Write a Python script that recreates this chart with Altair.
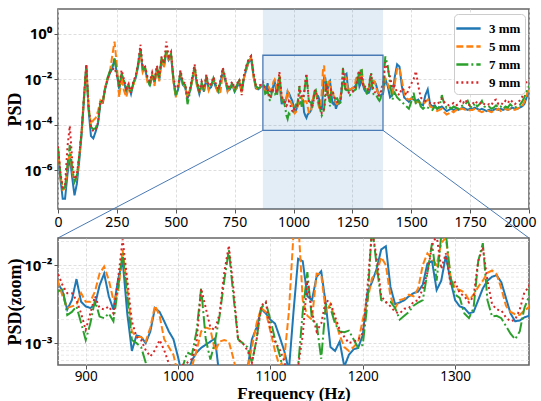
import altair as alt
import pandas as pd
import numpy as np

SERIES = ["3 mm", "5 mm", "7 mm", "9 mm"]
COLORS = ["#1f77b4", "#ff7f0e", "#2ca02c", "#d62728"]
DASHES = [[1, 0], [7, 3], [12, 3, 2, 3], [2, 3]]

# frequency grid (Hz): coarse outside the zoom window, fine inside it
FREQ_LOW = list(range(0, 870, 10))      # 0 .. 860
FREQ_ZOOM = list(range(870, 1385, 5))   # 870 .. 1380
FREQ_HIGH = list(range(1390, 2001, 10)) # 1390 .. 2000

# log10(PSD)
B_LOW = [-5.16,-6.35,-7.25,-7.25,-6.20,-5.40,-6.30,-7.10,-6.60,-5.60,
 -4.45,-2.95,-1.45,-3.35,-4.50,-4.60,-4.30,-3.95,-3.05,-3.05,
 -2.45,-2.05,-1.75,-1.55,-1.10,-1.75,-2.45,-1.85,-2.10,-2.55,
 -2.30,-2.65,-2.20,-1.95,-1.45,-0.70,-1.65,-1.55,-2.05,-2.25,
 -1.85,-2.15,-1.55,-2.05,-1.15,-1.45,-0.80,-1.15,-0.95,-2.05,
 -2.75,-2.45,-1.75,-2.25,-2.35,-2.85,-2.55,-2.05,-1.55,-2.25,
 -2.65,-2.25,-2.55,-1.95,-2.45,-2.35,-2.05,-2.35,-2.55,-2.15,
 -1.65,-2.05,-2.50,-2.45,-2.25,-2.55,-2.35,-2.15,-2.55,-1.95,
 -1.55,-1.25,-1.10,-1.85,-2.40,-2.45,-2.35]
O_LOW = [-5.05,-6.15,-6.85,-6.80,-5.90,-5.20,-6.00,-6.50,-6.30,-5.45,
 -4.40,-2.90,-1.40,-3.25,-4.00,-3.80,-3.70,-3.40,-2.95,-3.10,
 -2.35,-2.00,-1.70,-1.00,-0.35,-1.40,-2.80,-1.90,-2.50,-2.80,
 -2.35,-2.50,-2.30,-1.85,-1.40,-0.75,-1.70,-1.50,-2.15,-2.20,
 -1.75,-2.30,-1.50,-2.10,-1.05,-1.50,-0.75,-1.20,-0.85,-2.10,
 -2.80,-2.35,-1.80,-2.15,-2.40,-2.80,-2.45,-2.10,-1.50,-2.30,
 -2.55,-2.30,-2.45,-2.00,-2.50,-2.25,-2.10,-2.30,-2.65,-2.55,
 -1.70,-1.95,-2.55,-2.35,-2.30,-2.45,-2.40,-2.05,-2.60,-1.90,
 -1.60,-1.20,-1.05,-1.90,-2.35,-2.50,-2.30]
G_LOW = [-5.00,-6.20,-6.80,-6.75,-5.80,-4.90,-5.90,-6.50,-6.25,-5.40,
 -4.35,-2.85,-1.38,-3.30,-4.10,-4.20,-4.15,-3.85,-3.00,-3.00,
 -2.40,-1.95,-1.65,-1.45,-1.10,-1.70,-2.40,-1.75,-2.05,-2.45,
 -2.25,-2.60,-2.15,-1.90,-1.35,-0.65,-1.55,-1.50,-1.95,-2.30,
 -1.80,-2.10,-1.45,-1.95,-1.05,-1.35,-0.70,-1.05,-0.90,-1.95,
 -2.70,-2.40,-1.65,-2.20,-2.25,-3.10,-2.60,-1.95,-1.45,-2.15,
 -2.60,-2.15,-2.50,-1.85,-2.35,-2.30,-1.95,-2.25,-2.50,-2.10,
 -1.55,-2.00,-2.40,-2.40,-2.15,-2.50,-2.25,-2.05,-2.45,-1.85,
 -1.45,-1.15,-1.00,-1.75,-2.30,-2.40,-2.35]
R_LOW = [-4.95,-6.10,-6.75,-6.70,-5.00,-4.05,-5.50,-6.40,-6.20,-5.35,
 -4.30,-2.80,-1.35,-3.20,-4.05,-4.30,-4.20,-3.90,-2.95,-2.95,
 -2.40,-2.00,-1.70,-1.60,-1.50,-1.85,-2.30,-1.60,-2.00,-2.40,
 -2.20,-2.60,-2.10,-1.85,-1.30,-0.48,-1.50,-1.45,-1.90,-2.10,
 -1.70,-2.05,-1.40,-1.90,-1.00,-1.30,-0.35,-1.00,-0.80,-1.90,
 -2.40,-2.30,-1.60,-2.10,-2.20,-2.80,-2.45,-1.90,-1.35,-2.10,
 -2.50,-2.10,-2.40,-1.80,-2.30,-2.20,-1.90,-2.20,-2.45,-2.05,
 -1.50,-1.90,-2.35,-2.30,-2.10,-2.40,-2.20,-2.00,-2.70,-1.80,
 -1.40,-1.10,-0.98,-1.70,-2.25,-2.30,-2.25]

B_ZOOM = [-2.23,-2.34,-2.57,-2.45,-2.18,-2.47,-2.53,-2.55,-2.51,-2.26,
 -2.11,-2.40,-2.57,-2.19,-1.94,-2.62,-3.10,-2.90,-2.92,-3.00,
 -2.85,-2.55,-2.60,-2.72,-2.85,-2.95,-3.18,-3.45,-3.40,-3.22,
 -3.12,-3.06,-3.02,-2.98,-2.94,-3.45,-3.60,-3.70,-3.55,-3.50,
 -3.45,-3.35,-2.95,-2.80,-2.56,-2.62,-2.70,-2.75,-2.92,-3.10,
 -3.35,-2.60,-1.92,-1.95,-2.40,-2.45,-2.15,-2.08,-2.50,-3.05,
 -3.10,-2.98,-3.30,-3.15,-3.08,-3.06,-2.90,-2.35,-2.22,-2.05,
 -1.80,-1.76,-2.28,-2.50,-2.48,-2.45,-2.40,-2.36,-2.34,-2.25,
 -1.98,-1.95,-2.32,-2.20,-1.88,-2.20,-2.45,-2.53,-2.55,-2.62,
 -2.60,-2.45,-2.30,-2.20,-2.15,-2.13,-2.22,-2.42,-2.62,-2.72,
 -2.71,-2.67,-2.65]
O_ZOOM = [-2.21,-2.40,-2.55,-2.53,-2.51,-2.36,-2.47,-2.47,-2.34,-2.11,
 -2.02,-2.19,-2.45,-2.36,-1.81,-2.30,-2.85,-2.92,-2.92,-2.98,
 -2.80,-2.52,-2.65,-2.95,-3.05,-3.15,-3.40,-3.50,-3.45,-3.30,
 -3.10,-2.85,-2.80,-2.82,-3.10,-2.98,-2.96,-2.98,-3.20,-3.45,
 -3.50,-3.35,-3.05,-2.75,-2.55,-2.60,-2.85,-3.10,-3.30,-3.20,
 -2.60,-1.60,-1.40,-2.45,-2.65,-2.70,-2.11,-2.12,-2.60,-2.50,
 -2.70,-2.90,-3.05,-3.10,-3.05,-2.99,-2.70,-2.45,-2.17,-2.10,
 -1.90,-2.00,-2.40,-2.55,-2.45,-2.43,-2.38,-2.40,-2.30,-2.00,
 -1.85,-1.92,-2.00,-1.72,-1.65,-2.15,-2.30,-2.32,-2.35,-2.45,
 -2.38,-2.28,-2.20,-2.10,-2.07,-2.12,-2.30,-2.52,-2.60,-2.63,
 -2.64,-2.58,-2.54]
G_ZOOM = [-2.34,-2.30,-2.64,-2.60,-2.53,-2.74,-2.96,-2.75,-2.45,-2.66,
 -2.68,-2.62,-2.72,-2.30,-1.85,-2.40,-2.96,-3.00,-3.05,-3.25,
 -3.60,-3.75,-3.50,-3.55,-3.50,-3.45,-3.40,-3.30,-3.12,-3.15,
 -2.85,-2.30,-2.95,-3.21,-2.98,-2.65,-2.20,-1.81,-2.40,-2.95,
 -3.00,-3.05,-3.25,-2.95,-2.55,-2.48,-2.70,-2.95,-3.15,-3.40,
 -3.60,-3.50,-3.30,-2.60,-2.09,-2.70,-2.75,-3.20,-2.50,-2.55,
 -2.75,-2.85,-2.86,-2.84,-2.95,-3.06,-3.02,-2.50,-1.50,-2.00,
 -2.45,-2.48,-2.47,-2.55,-2.70,-2.65,-2.60,-2.52,-2.48,-2.45,
 -2.10,-1.72,-2.20,-1.62,-1.60,-2.15,-2.38,-2.42,-2.62,-2.68,
 -2.55,-1.95,-1.72,-2.45,-2.66,-2.65,-2.68,-2.78,-2.88,-2.95,
 -2.85,-2.55,-2.40]
R_ZOOM = [-2.11,-2.26,-2.36,-2.36,-2.45,-2.62,-2.83,-2.62,-2.40,-2.55,
 -2.57,-2.53,-2.62,-2.19,-1.67,-2.19,-2.72,-2.92,-2.96,-3.09,
 -3.17,-3.09,-2.96,-3.09,-3.26,-3.40,-3.45,-3.28,-3.25,-3.20,
 -3.00,-2.30,-2.55,-2.80,-2.83,-2.62,-2.10,-1.75,-2.30,-2.96,
 -3.00,-3.09,-3.25,-2.96,-2.52,-2.47,-2.83,-2.98,-3.08,-3.23,
 -3.50,-3.45,-3.30,-2.90,-2.20,-2.60,-2.85,-2.75,-2.45,-2.48,
 -2.66,-2.83,-2.92,-3.00,-2.98,-2.96,-2.87,-2.30,-1.55,-1.90,
 -2.40,-2.47,-2.53,-2.60,-2.62,-2.56,-2.55,-2.47,-2.45,-2.30,
 -2.10,-1.75,-1.62,-2.05,-1.85,-2.24,-2.22,-2.36,-2.40,-2.48,
 -2.40,-1.95,-1.77,-2.20,-2.50,-2.57,-2.58,-2.67,-2.72,-2.70,
 -2.57,-2.35,-2.28]

B_HIGH = [-2.00,-2.30,-2.80,-2.70,-1.90,-1.35,-1.45,-2.30,-2.80,-2.90,
 -3.00,-2.85,-2.90,-2.95,-2.90,-3.10,-3.15,-2.70,-2.45,-3.10,
 -3.20,-3.15,-3.30,-3.25,-3.20,-3.30,-3.40,-3.35,-3.30,-3.35,
 -3.30,-3.35,-3.30,-3.25,-3.30,-3.35,-3.30,-3.30,-3.25,-3.30,
 -3.35,-3.30,-3.35,-3.40,-3.35,-3.40,-3.35,-3.30,-3.35,-3.30,
 -3.35,-3.30,-3.35,-3.30,-3.25,-3.30,-3.30,-3.25,-3.20,-3.10,
 -2.80,-2.50]
O_HIGH = [-1.95,-2.20,-2.50,-2.60,-2.20,-1.55,-1.50,-2.05,-2.60,-2.85,
 -2.90,-2.85,-2.95,-3.00,-3.00,-3.05,-3.10,-3.00,-2.90,-3.20,
 -3.25,-3.30,-3.40,-3.35,-3.30,-3.45,-3.55,-3.50,-3.40,-3.45,
 -3.35,-3.40,-3.30,-3.30,-3.35,-3.40,-3.35,-3.35,-3.30,-3.35,
 -3.40,-3.45,-3.40,-3.35,-3.40,-3.45,-3.40,-3.35,-3.30,-3.40,
 -3.35,-3.30,-3.35,-3.30,-3.30,-3.35,-3.30,-3.25,-3.20,-3.00,
 -2.70,-2.40]
G_HIGH = [-1.00,-1.40,-2.20,-2.90,-2.60,-2.80,-2.90,-3.00,-3.10,-3.20,
 -3.30,-3.00,-2.60,-3.10,-2.85,-3.20,-3.30,-3.20,-3.25,-3.30,
 -3.35,-3.20,-3.30,-3.20,-2.70,-3.10,-3.25,-3.20,-3.30,-3.20,
 -3.25,-3.30,-3.20,-3.15,-3.10,-2.95,-3.20,-3.25,-3.05,-3.20,
 -3.10,-2.95,-3.20,-3.25,-3.20,-3.30,-3.25,-3.15,-3.25,-3.20,
 -3.30,-3.20,-3.25,-3.10,-3.20,-3.25,-3.20,-3.15,-3.00,-2.80,
 -2.50,-2.30]
R_HIGH = [-1.25,-1.55,-1.90,-2.40,-2.30,-2.60,-2.70,-2.40,-2.50,-2.70,
 -2.40,-2.20,-2.00,-1.65,-2.30,-2.80,-2.90,-2.95,-3.00,-3.05,
 -3.10,-3.05,-3.10,-3.00,-2.85,-3.00,-3.10,-3.15,-3.10,-3.05,
 -3.15,-3.10,-2.95,-3.05,-2.90,-3.10,-3.15,-3.10,-2.95,-3.05,
 -3.10,-3.00,-3.10,-3.15,-3.10,-3.15,-2.95,-2.90,-3.10,-3.05,
 -3.10,-2.95,-3.05,-2.90,-3.00,-3.10,-3.00,-2.95,-2.80,-2.50,
 -2.10,-2.00]

X_TICKS_TOP = [0, 250, 500, 750, 1000, 1250, 1500, 1750, 2000]
X_TICKS_BOT = [900, 1000, 1100, 1200, 1300]
ZOOM_F = [870, 1380]
BOX_LG = [-4.25, -0.95]
MINOR_VALUES = [6e-4, 7e-4, 8e-4, 9e-4, 2e-3, 3e-3, 4e-3, 5e-3, 6e-3, 7e-3, 8e-3, 9e-3, 2e-2]

freqs = FREQ_LOW + FREQ_ZOOM + FREQ_HIGH
series_vals = {
    "3 mm": B_LOW + B_ZOOM + B_HIGH,
    "5 mm": O_LOW + O_ZOOM + O_HIGH,
    "7 mm": G_LOW + G_ZOOM + G_HIGH,
    "9 mm": R_LOW + R_ZOOM + R_HIGH,
}
rows = []
for name in SERIES:
    for f, v in zip(freqs, series_vals[name]):
        rows.append({"freq": f, "lg": v, "series": name})
df = pd.DataFrame(rows)
df_zoom = df[(df.freq >= 860) & (df.freq <= 1390)]

W = 471
H_TOP = 200
H_BOT = 127
GAP = 29
TOP_DOM = [-7.7, 1.08]
BOT_DOM = [-3.28, -1.654]

color_scale = alt.Scale(domain=SERIES, range=COLORS)
dash_scale = alt.Scale(domain=SERIES, range=DASHES)

y_label_expr = ("datum.value == 0 ? '10⁰' : datum.value == -1 ? '10⁻¹' : "
                "datum.value == -2 ? '10⁻²' : datum.value == -3 ? '10⁻³' : "
                "datum.value == -4 ? '10⁻⁴' : datum.value == -6 ? '10⁻⁶' : ''")

legend = alt.Legend(title=None, orient="none", legendX=396, legendY=5,
                    fillColor="white", strokeColor="#cccccc", cornerRadius=4,
                    padding=4, symbolType="M-1.35,0L1.35,0", symbolSize=324,
                    symbolStrokeWidth=2.6, labelFont="Liberation Serif",
                    labelFontWeight="bold", labelFontSize=13, rowPadding=0,
                    labelOffset=10)

# shared scales / axes
x_top_scale = alt.Scale(domain=[0, 2000], nice=False, zero=False)
y_top_scale = alt.Scale(domain=TOP_DOM, nice=False, zero=False)
x_top_axis = alt.Axis(values=X_TICKS_TOP, title=None, labelOverlap=False,
                      labelFlush=False, format="d",
                      labelOffset={"expr": "datum.value == 2000 ? -9 : 0"})
y_top_axis = alt.Axis(values=[0, -2, -4, -6], labelExpr=y_label_expr,
                      title="PSD", titleX=-43, titleY=H_TOP / 2,
                      titleAngle=270, titleAlign="center", titleBaseline="middle",
                      labelFontWeight="bold", labelFontSize=15)

x_bot_scale = alt.Scale(domain=ZOOM_F, nice=False, zero=False)
y_bot_scale = alt.Scale(domain=BOT_DOM, nice=False, zero=False)
x_bot_axis = alt.Axis(values=X_TICKS_BOT, title="Frequency (Hz)", titleY=28,
                      titleBaseline="middle", titleFontSize=17,
                      labelOverlap=False, format="d", labelPadding=0,
                      labelFontSize=13.5)
y_bot_axis = alt.Axis(values=[-3, -2], labelExpr=y_label_expr,
                      title="PSD(zoom)", titleX=-43, titleY=H_BOT / 2,
                      titleAngle=270, titleAlign="center", titleBaseline="middle",
                      labelFontWeight="bold", labelFontSize=15)

# ---- top panel
shade = alt.Chart(pd.DataFrame({"freq": [ZOOM_F[0]], "x1": [ZOOM_F[1]]})).mark_rect(
    color="#1f77b4", opacity=0.13
).encode(x=alt.X("freq:Q", scale=x_top_scale, axis=x_top_axis), x2="x1",
         y=alt.value(0), y2=alt.value(H_TOP))

lines_top = alt.Chart(df).mark_line(strokeWidth=2, clip=True).encode(
    x=alt.X("freq:Q", scale=x_top_scale, axis=x_top_axis),
    y=alt.Y("lg:Q", scale=y_top_scale, axis=y_top_axis),
    color=alt.Color("series:N", scale=color_scale, legend=legend),
    strokeDash=alt.StrokeDash("series:N", scale=dash_scale, legend=legend),
)

box = alt.Chart(pd.DataFrame({"freq": [ZOOM_F[0]], "x1": [ZOOM_F[1]],
                              "lg": [BOX_LG[0]], "y1": [BOX_LG[1]]})).mark_rect(
    filled=False, stroke="#4a7ab5", strokeWidth=1.3
).encode(x=alt.X("freq:Q", scale=x_top_scale, axis=x_top_axis), x2="x1",
         y=alt.Y("lg:Q", scale=y_top_scale, axis=y_top_axis), y2="y1")

conn = alt.Chart(pd.DataFrame({"freq": [ZOOM_F[0], ZOOM_F[1]],
                               "lg": [BOX_LG[0], BOX_LG[0]],
                               "x1": [0, 2000]})).mark_rule(
    color="#4a7ab5", strokeWidth=1
).encode(x=alt.X("freq:Q", scale=x_top_scale, axis=x_top_axis),
         y=alt.Y("lg:Q", scale=y_top_scale, axis=y_top_axis), x2="x1",
         y2=alt.value(H_TOP + GAP))

top = alt.layer(shade, lines_top, box, conn).properties(width=W, height=H_TOP)

# ---- bottom panel
minor = alt.Chart(pd.DataFrame({"lg": np.log10(MINOR_VALUES)})).mark_rule(
    color="#e2e2e2", strokeWidth=0.8, strokeDash=[3, 2]
).encode(y=alt.Y("lg:Q", scale=y_bot_scale, axis=y_bot_axis))

lines_bot = alt.Chart(df_zoom).mark_line(strokeWidth=2, clip=True).encode(
    x=alt.X("freq:Q", scale=x_bot_scale, axis=x_bot_axis),
    y=alt.Y("lg:Q", scale=y_bot_scale, axis=y_bot_axis),
    color=alt.Color("series:N", scale=color_scale, legend=None),
    strokeDash=alt.StrokeDash("series:N", scale=dash_scale, legend=None),
)

bottom = alt.layer(minor, lines_bot).properties(width=W, height=H_BOT)

chart = alt.vconcat(top, bottom, spacing=GAP, bounds="flush").resolve_scale(
    x="independent", y="independent"
).properties(
    padding={"left": 5, "top": 8, "right": 0, "bottom": 0}
).configure_view(
    stroke="#666666", strokeWidth=1.6
).configure_axis(
    grid=True, gridColor="#d6d6d6", gridDash=[3, 2], gridWidth=0.8,
    domain=False, tickColor="#555555", tickSize=4, labelPadding=2,
    labelFont="Noto Sans", labelFontSize=14, labelColor="black",
    titleFont="Liberation Serif", titleFontSize=18, titleFontWeight="bold",
    titleColor="black"
)

chart.save("out.html", embed_options={"renderer": "svg", "actions": False})
